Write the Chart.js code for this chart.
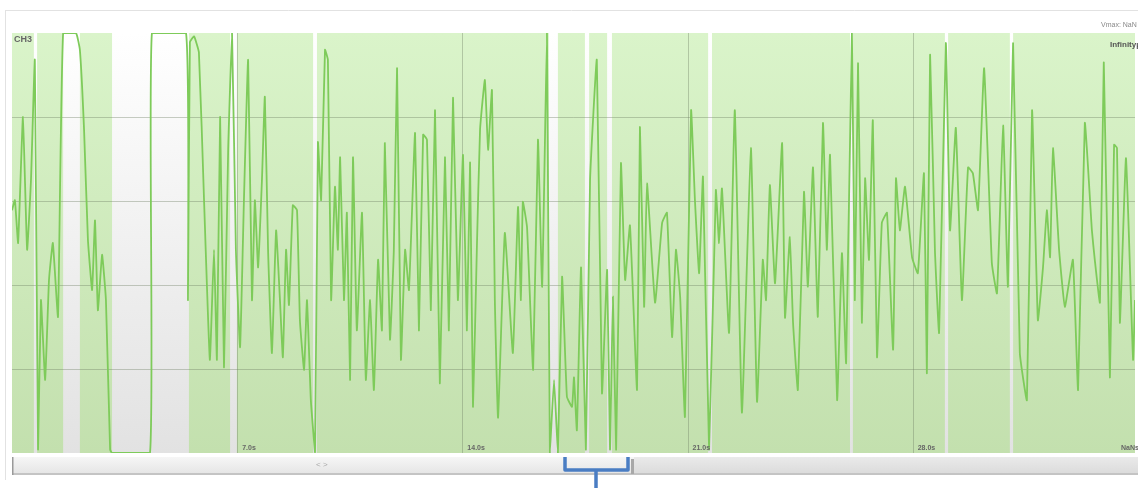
<!DOCTYPE html>
<html>
<head>
<meta charset="utf-8">
<script src="https://cdn.jsdelivr.net/npm/chart.js@4.4.1/dist/chart.umd.min.js"></script>
<style>
  html, body { margin: 0; padding: 0; background: #fff; }
  #wrap { position: relative; width: 1138px; height: 488px; }
</style>
</head>
<body>
<div id="wrap"><canvas id="chartCanal" width="1138" height="488"></canvas></div>
<script>
// señal del canal CH3 (segundos / amplitud en divisiones)
const tiempos = [
  0.00, 0.09, 0.19, 0.34, 0.47, 0.59, 0.71, 0.81, 0.90, 1.03, 1.15, 1.27, 1.43, 1.59, 1.99, 2.11,
  2.24, 2.36, 2.49, 2.58, 2.67, 2.80, 2.92, 3.05, 3.11, 4.29, 4.35, 5.41, 5.47, 5.53, 5.66, 5.81,
  5.97, 6.15, 6.28, 6.37, 6.47, 6.59, 6.72, 6.84, 6.96, 7.09, 7.21, 7.34, 7.46, 7.55, 7.65, 7.77,
  7.86, 7.96, 8.08, 8.21, 8.33, 8.42, 8.52, 8.61, 8.73, 8.86, 8.95, 9.08, 9.17, 9.29, 9.42, 9.51,
  9.61, 9.73, 9.82, 9.92, 10.04, 10.13, 10.20, 10.32, 10.41, 10.51, 10.60, 10.72, 10.88, 11.00, 11.13, 11.25,
  11.38, 11.50, 11.59, 11.75, 11.87, 11.97, 12.09, 12.22, 12.34, 12.53, 12.65, 12.78, 12.90, 13.02, 13.15, 13.30,
  13.46, 13.58, 13.71, 13.86, 14.02, 14.14, 14.24, 14.33, 14.45, 14.55, 14.70, 14.80, 14.92, 15.01, 15.11, 15.32,
  15.57, 15.73, 15.82, 15.88, 16.01, 16.20, 16.35, 16.48, 16.63, 16.72, 16.85, 16.97, 17.10, 17.25, 17.41, 17.47,
  17.56, 17.69, 17.84, 17.97, 18.18, 18.34, 18.50, 18.59, 18.68, 18.78, 18.93, 19.06, 19.21, 19.43, 19.52, 19.65,
  19.74, 19.99, 20.21, 20.36, 20.52, 20.64, 20.77, 20.92, 21.11, 21.23, 21.36, 21.48, 21.67, 21.88, 21.98, 22.07,
  22.29, 22.47, 22.69, 22.97, 23.16, 23.34, 23.44, 23.56, 23.72, 23.94, 24.03, 24.18, 24.28, 24.43, 24.62, 24.74,
  24.90, 25.05, 25.21, 25.33, 25.43, 25.65, 25.80, 25.93, 26.11, 26.20, 26.30, 26.42, 26.52, 26.64, 26.76, 26.89,
  27.04, 27.20, 27.39, 27.48, 27.60, 27.76, 27.98, 28.16, 28.35, 28.44, 28.54, 28.69, 28.82, 29.03, 29.16, 29.34,
  29.53, 29.72, 29.87, 30.03, 30.22, 30.46, 30.62, 30.81, 30.96, 31.12, 31.33, 31.55, 31.71, 31.89, 32.05, 32.17,
  32.27, 32.36, 32.55, 32.73, 32.98, 33.14, 33.35, 33.57, 33.66, 33.82, 33.94, 34.13, 34.26, 34.35, 34.44, 34.63,
  34.85, 34.91
]
const valores = [
  2.89, 3.01, 2.50, 4.00, 2.42, 3.25, 4.68, 0.04, 1.82, 0.87, 2.06, 2.50, 1.62, 5.00, 5.00, 4.80,
  3.85, 2.54, 1.94, 2.77, 1.70, 2.36, 1.82, 0.04, 0.00, 0.00, 5.00, 5.00, 1.82, 4.89, 4.96, 4.77,
  3.01, 1.11, 2.42, 1.11, 4.00, 1.02, 3.61, 5.00, 2.42, 1.26, 3.01, 4.68, 1.82, 3.01, 2.21, 3.25,
  4.24, 2.42, 1.19, 2.65, 1.82, 1.14, 2.42, 1.76, 2.95, 2.89, 1.58, 0.99, 1.82, 0.63, 0.01, 3.70,
  3.01, 4.80, 4.68, 1.82, 3.17, 2.42, 3.52, 1.82, 2.86, 0.87, 3.52, 1.46, 2.86, 0.87, 1.82, 0.75,
  2.30, 1.46, 3.69, 1.35, 2.42, 4.58, 1.11, 2.42, 1.94, 3.81, 1.46, 3.79, 3.73, 1.70, 4.08, 0.83,
  3.52, 1.46, 4.23, 1.82, 3.55, 1.46, 3.46, 0.55, 2.42, 3.85, 4.44, 3.61, 4.32, 1.82, 0.42, 2.62,
  1.19, 2.93, 1.82, 2.99, 2.69, 0.99, 3.73, 1.98, 5.00, 0.00, 0.87, 0.00, 2.10, 0.67, 0.55, 0.90,
  0.27, 2.21, 0.04, 3.25, 4.68, 0.71, 2.18, 0.04, 1.86, 0.04, 3.45, 2.06, 2.71, 0.75, 3.88, 1.74,
  3.21, 1.79, 2.74, 2.86, 1.38, 2.42, 1.86, 0.43, 4.08, 3.01, 2.14, 3.29, 0.04, 3.13, 2.50, 3.15,
  1.43, 4.08, 0.48, 3.63, 0.61, 2.30, 1.82, 3.19, 2.02, 3.69, 1.61, 2.57, 1.55, 0.75, 3.11, 1.98,
  3.40, 1.62, 3.93, 2.42, 3.55, 0.63, 2.38, 1.07, 5.00, 1.82, 4.64, 1.55, 3.27, 2.30, 3.96, 1.14,
  2.74, 2.86, 1.23, 3.27, 2.65, 3.17, 2.33, 2.14, 3.33, 0.95, 4.74, 2.42, 1.43, 4.88, 2.65, 3.87,
  1.82, 3.40, 3.33, 2.89, 4.58, 2.26, 1.90, 3.90, 1.98, 4.88, 1.19, 0.63, 4.08, 1.58, 2.21, 2.89,
  2.33, 3.63, 2.42, 1.74, 2.30, 0.75, 3.93, 2.65, 2.30, 1.79, 4.65, 0.90, 3.67, 3.63, 1.55, 3.51,
  1.11, 1.82
]
const marcasSegundos = [7, 14, 21, 28]
const lineasAmplitud = [1, 2, 3, 4]
// tramos con artefacto (fondo blanco)
const artefactoInicio = [0.68, 1.59, 3.11, 6.78, 9.36, 16.69, 17.81, 18.50, 21.64, 26.05, 29.00, 31.02]
const artefactoFin    = [0.78, 2.11, 5.50, 6.99, 9.48, 16.97, 17.94, 18.65, 21.76, 26.14, 29.10, 31.12]
const duracion = 34.91

const canvas = document.getElementById('chartCanal')
const context = canvas.getContext('2d')

const fondoCanal = {
  id: 'fondoCanal',
  beforeDatasetsDraw(chart) {
    const { ctx, chartArea: a, scales: { x, y } } = chart
    ctx.save()
    ctx.beginPath()
    ctx.rect(a.left, a.top, a.right - a.left, a.bottom - a.top)
    ctx.clip()

    const verde = ctx.createLinearGradient(0, a.top, 0, a.bottom)
    verde.addColorStop(0, '#daf4ca')
    verde.addColorStop(1, '#c3e0ae')
    ctx.fillStyle = verde
    ctx.fillRect(a.left, a.top, a.right - a.left, a.bottom - a.top)

    const blanco = ctx.createLinearGradient(0, a.top, 0, a.bottom)
    blanco.addColorStop(0, '#ffffff')
    blanco.addColorStop(1, '#e2e2e2')
    ctx.fillStyle = blanco
    artefactoInicio.forEach((ini, i) => {
      const x0 = x.getPixelForValue(ini)
      const x1 = x.getPixelForValue(artefactoFin[i])
      ctx.fillRect(x0, a.top, x1 - x0, a.bottom - a.top)
    })

    ctx.strokeStyle = 'rgba(110,125,100,0.38)'
    ctx.lineWidth = 1
    lineasAmplitud.forEach(v => {
      const py = Math.round(y.getPixelForValue(v)) + 0.5
      ctx.beginPath(); ctx.moveTo(a.left, py); ctx.lineTo(a.right, py); ctx.stroke()
    })
    marcasSegundos.forEach(s => {
      const px = Math.round(x.getPixelForValue(s)) + 0.5
      ctx.beginPath(); ctx.moveTo(px, a.top); ctx.lineTo(px, a.bottom); ctx.stroke()
    })
    ctx.restore()
  },
  afterDraw(chart) {
    const { ctx, chartArea: a, scales: { x } } = chart
    ctx.save()
    // marco del panel
    ctx.strokeStyle = '#e2e2e2'
    ctx.lineWidth = 1
    ctx.beginPath(); ctx.moveTo(5, 10.5); ctx.lineTo(1138, 10.5); ctx.stroke()
    ctx.beginPath(); ctx.moveTo(5.5, 10); ctx.lineTo(5.5, 480); ctx.stroke()

    ctx.font = 'bold 9px "Liberation Sans", Arial, sans-serif'
    ctx.fillStyle = '#666'
    ctx.textBaseline = 'top'
    ctx.fillText('CH3', a.left + 2, a.top + 2)

    ctx.font = '7px "Liberation Sans", Arial, sans-serif'
    ctx.fillStyle = '#888'
    ctx.textBaseline = 'middle'
    ctx.fillText('Vmax: NaN', 1101, 25)
    ctx.font = 'bold 8px "Liberation Sans", Arial, sans-serif'
    ctx.fillStyle = '#555'
    ctx.fillText('InfinityµV', 1110, 45)

    ctx.font = 'bold 7px "Liberation Sans", Arial, sans-serif'
    ctx.fillStyle = '#666'
    ctx.textBaseline = 'bottom'
    marcasSegundos.forEach(s => {
      ctx.fillText(s.toFixed(1) + 's', x.getPixelForValue(s) + 5, a.bottom - 1)
    })
    ctx.fillText('NaNs', 1121, a.bottom - 1)

    // barra de desplazamiento
    const sy = 457, sh = 18
    const barra = ctx.createLinearGradient(0, sy, 0, sy + sh)
    barra.addColorStop(0, '#f6f6f6')
    barra.addColorStop(1, '#e4e4e4')
    ctx.fillStyle = barra
    ctx.fillRect(a.left, sy, 1138 - a.left, sh)
    const barra2 = ctx.createLinearGradient(0, sy, 0, sy + sh)
    barra2.addColorStop(0, '#eaeaea')
    barra2.addColorStop(1, '#dadada')
    ctx.fillStyle = barra2
    ctx.fillRect(634, sy, 1138 - 634, sh)
    ctx.fillStyle = '#c4c4c4'
    ctx.fillRect(a.left, sy + sh - 2, 1138 - a.left, 2)
    ctx.fillStyle = '#9a9a9a'
    ctx.fillRect(a.left, sy, 1.5, sh)
    ctx.fillStyle = '#a8a8a8'
    ctx.fillRect(631, sy + 2, 3, sh - 3)
    ctx.font = '8px "Liberation Sans", Arial, sans-serif'
    ctx.fillStyle = '#aaa'
    ctx.textBaseline = 'middle'
    ctx.fillText('< >', 316, sy + 8)

    // indicador de ventana
    ctx.strokeStyle = '#4a7dc3'
    ctx.lineWidth = 3.5
    ctx.lineJoin = 'round'
    ctx.beginPath()
    ctx.moveTo(565, 457); ctx.lineTo(565, 470); ctx.lineTo(628, 470); ctx.lineTo(628, 457)
    ctx.stroke()
    ctx.beginPath(); ctx.moveTo(596, 470); ctx.lineTo(596, 488); ctx.stroke()
    ctx.restore()
  }
}

const chartCanal = new Chart(context, {
  type: 'line',
  data: {
    datasets: [{
      label: 'CH3',
      data: tiempos.map((t, i) => ({ x: t, y: valores[i] })),
      borderColor: '#7ecb5a',
      borderWidth: 1.8,
      pointRadius: 0,
      fill: false,
      tension: 0.12
    }]
  },
  options: {
    responsive: false,
    animation: false,
    layout: { padding: { left: 12, top: 33, right: 3, bottom: 35 } },
    plugins: { legend: { display: false }, tooltip: { enabled: false } },
    scales: {
      x: { type: 'linear', min: 0, max: duracion, display: false },
      y: { min: 0, max: 5, display: false }
    }
  },
  plugins: [fondoCanal]
})
</script>
</body>
</html>
